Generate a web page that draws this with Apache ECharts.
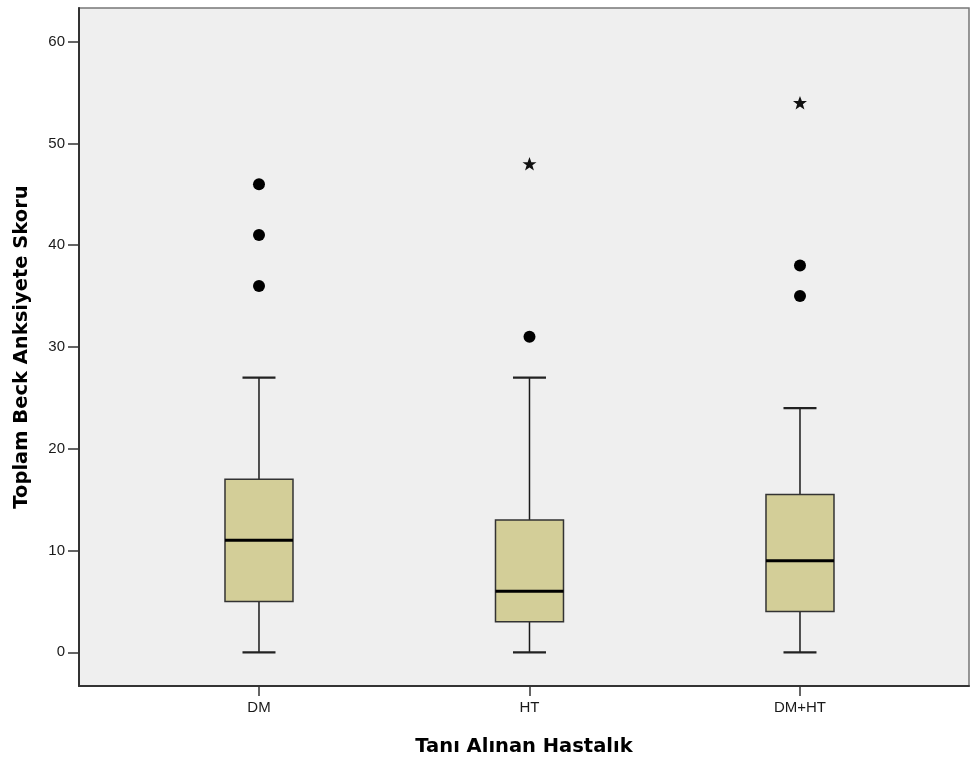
<!DOCTYPE html>
<html>
<head>
<meta charset="utf-8">
<title>Toplam Beck Anksiyete Skoru</title>
<script src="https://cdn.jsdelivr.net/npm/echarts@6/dist/echarts.min.js"></script>
<style>
  html, body { margin: 0; padding: 0; background: #ffffff; }
  #chart { width: 970px; height: 758px; }
</style>
</head>
<body>
<div id="chart"></div>
<script>
// Groups and five-number summaries of the Beck anxiety total score
const categories = ['DM', 'HT', 'DM+HT'];
const minVals = [0, 0, 0];
const q1Vals = [5, 3, 4];
const medianVals = [11, 6, 9];
const q3Vals = [17, 13, 15.5];
const maxVals = [27, 27, 24];
// Outliers (circles) and extreme values (stars) per group
const outlierVals = [[36, 41, 46], [31], [35, 38]];
const extremeVals = [[], [48], [54]];
const yTicks = [0, 10, 20, 30, 40, 50, 60];
const xTicks = [1, 2, 3];

const boxData = categories.map((c, i) => [i + 1, minVals[i], q1Vals[i], medianVals[i], q3Vals[i], maxVals[i]]);
const outlierData = [];
outlierVals.forEach((arr, i) => arr.forEach(v => outlierData.push([i + 1, v])));
const extremeData = [];
extremeVals.forEach((arr, i) => arr.forEach(v => extremeData.push([i + 1, v])));

const BOX_HALF = 34;
const CAP_HALF = 16.5;
const starPath = 'path://M50,0 L63,36 L99,36 L70,58 L81,95 L50,73 L19,95 L30,58 L1,36 L37,36 Z';

function renderBox(params, api) {
  const x = api.value(0);
  const pMin = api.coord([x, api.value(1)]);
  const pQ1 = api.coord([x, api.value(2)]);
  const pMed = api.coord([x, api.value(3)]);
  const pQ3 = api.coord([x, api.value(4)]);
  const pMax = api.coord([x, api.value(5)]);
  const cx = pMed[0];
  const whisker = { stroke: '#1a1a1a', lineWidth: 1.5 };
  const cap = { stroke: '#222222', lineWidth: 2.2 };
  return {
    type: 'group',
    children: [
      { type: 'line', shape: { x1: cx, y1: pQ3[1], x2: cx, y2: pMax[1] }, style: whisker },
      { type: 'line', shape: { x1: cx, y1: pQ1[1], x2: cx, y2: pMin[1] }, style: whisker },
      { type: 'line', shape: { x1: cx - CAP_HALF, y1: pMax[1], x2: cx + CAP_HALF, y2: pMax[1] }, style: cap },
      { type: 'line', shape: { x1: cx - CAP_HALF, y1: pMin[1], x2: cx + CAP_HALF, y2: pMin[1] }, style: cap },
      { type: 'rect', shape: { x: cx - BOX_HALF, y: pQ3[1], width: BOX_HALF * 2, height: pQ1[1] - pQ3[1] },
        style: { fill: '#d3ce98', stroke: '#333333', lineWidth: 1.5 } },
      { type: 'line', shape: { x1: cx - BOX_HALF, y1: pMed[1], x2: cx + BOX_HALF, y2: pMed[1] },
        style: { stroke: '#000000', lineWidth: 3 } }
    ]
  };
}

const chart = echarts.init(document.getElementById('chart'), null, { renderer: 'canvas' });
chart.setOption({
  backgroundColor: '#ffffff',
  animation: false,
  grid: {
    left: 79, top: 8, right: 1, bottom: 72,
    outerBoundsMode: 'none',
    containLabel: false,
    show: true, backgroundColor: '#efefef', borderColor: '#777777', borderWidth: 1.5
  },
  xAxis: {
    type: 'value',
    min: 0.3346,
    max: 3.6248,
    name: 'Tanı Alınan Hastalık',
    nameLocation: 'middle',
    nameGap: 51,
    nameTextStyle: { fontFamily: 'DejaVu Sans', fontWeight: 'bold', fontSize: 19.5, color: '#000' },
    splitLine: { show: false },
    axisLine: { show: true, onZero: false, lineStyle: { color: '#333', width: 2 } },
    axisTick: { show: true, customValues: xTicks, length: 10, lineStyle: { color: '#333', width: 1.5 } },
    axisLabel: {
      customValues: xTicks,
      margin: 14,
      fontFamily: 'Liberation Sans', fontSize: 15, color: '#1a1a1a',
      formatter: v => categories[Math.round(v) - 1] || ''
    }
  },
  yAxis: {
    type: 'value',
    min: -3.31,
    max: 63.31,
    name: 'Toplam Beck Anksiyete Skoru',
    nameLocation: 'middle',
    nameGap: 47,
    nameTextStyle: { fontFamily: 'DejaVu Sans', fontWeight: 'bold', fontSize: 19.5, color: '#000' },
    splitLine: { show: false },
    axisLine: { show: true, onZero: false, lineStyle: { color: '#333', width: 2 } },
    axisTick: { show: true, customValues: yTicks, length: 11, lineStyle: { color: '#333', width: 1.5 } },
    axisLabel: {
      customValues: yTicks,
      margin: 14,
      fontFamily: 'Liberation Sans', fontSize: 15, color: '#1a1a1a'
    }
  },
  series: [
    {
      type: 'custom',
      name: 'Kutu',
      renderItem: renderBox,
      encode: { x: 0, y: [1, 2, 3, 4, 5] },
      data: boxData,
      z: 2
    },
    {
      type: 'scatter',
      name: 'Aykırı',
      data: outlierData,
      symbol: 'circle',
      symbolSize: 12,
      itemStyle: { color: '#000000', opacity: 1 },
      z: 3
    },
    {
      type: 'scatter',
      name: 'Uç değer',
      data: extremeData,
      symbol: starPath,
      symbolSize: 14,
      symbolKeepAspect: true,
      itemStyle: { color: '#111111', opacity: 1 },
      z: 3
    }
  ]
});
</script>
</body>
</html>
